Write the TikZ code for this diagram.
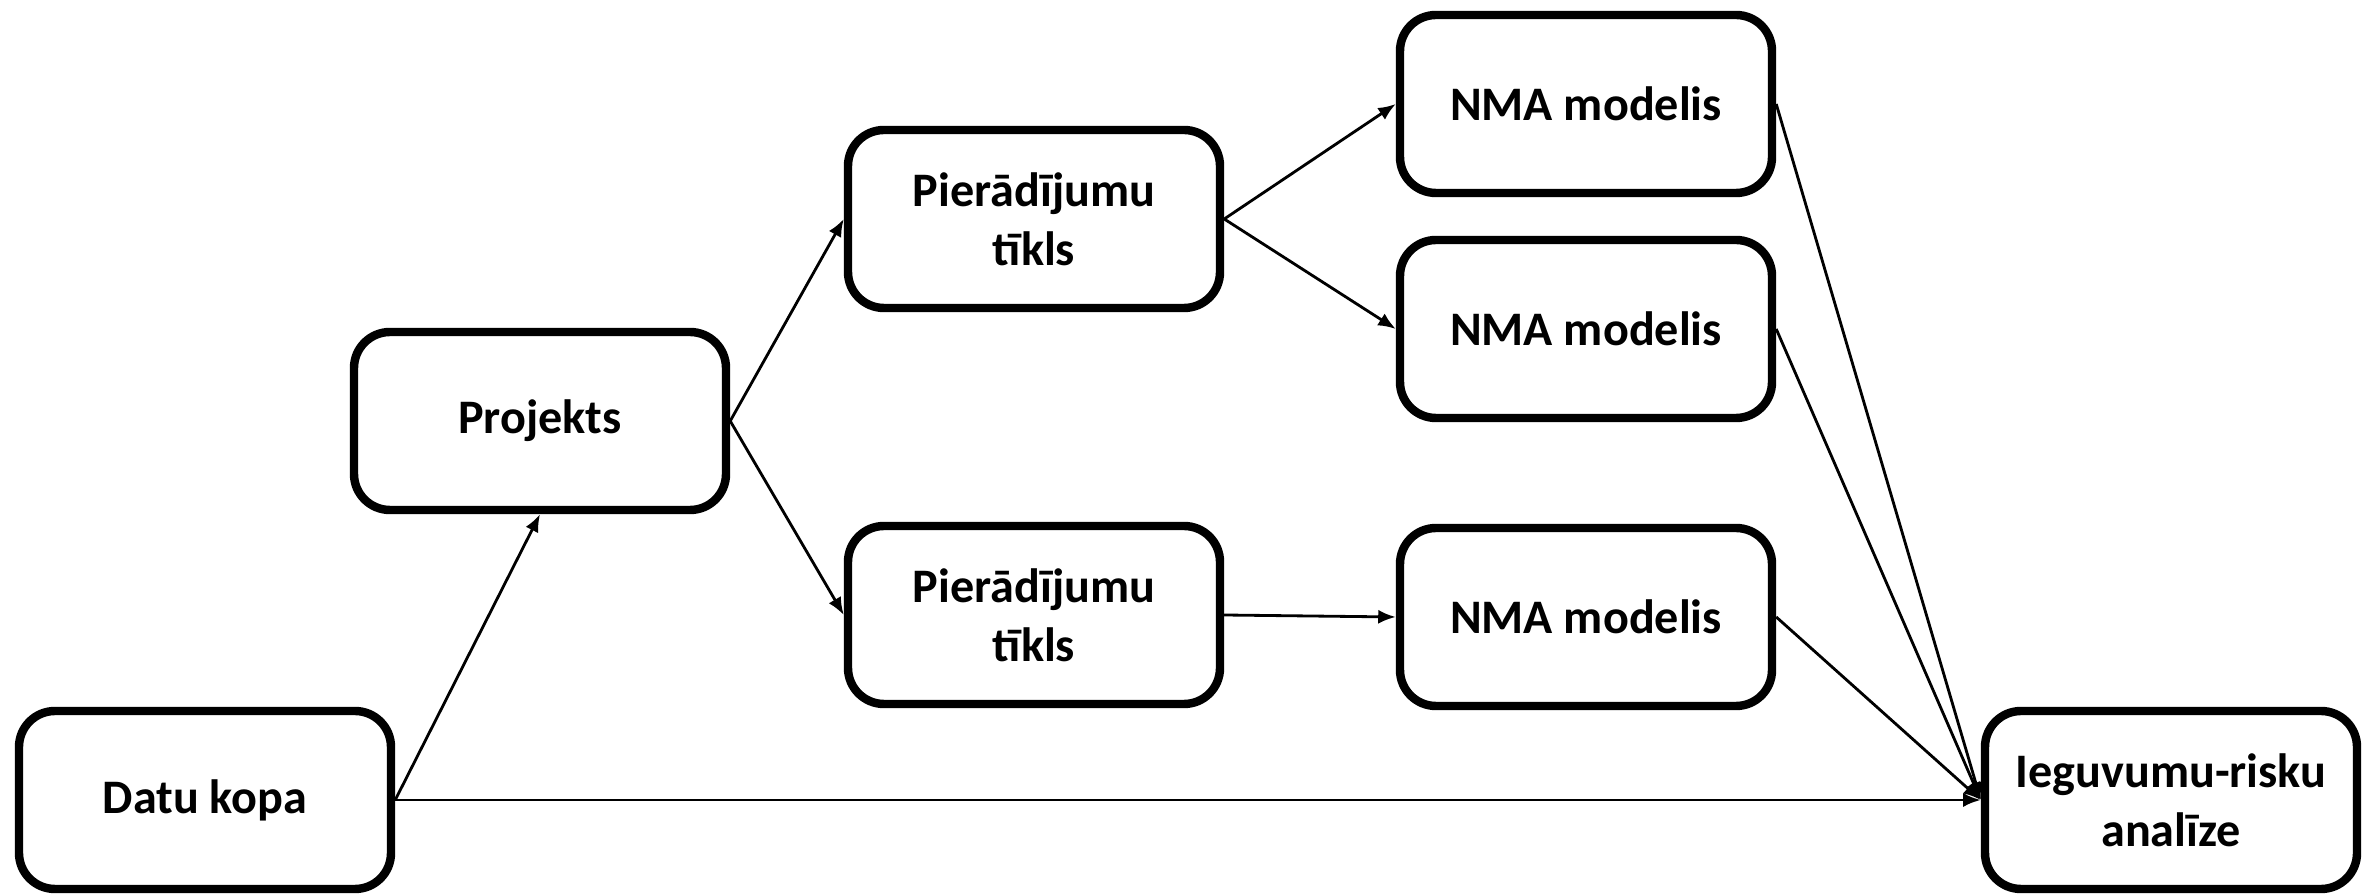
\documentclass[tikz,border=0pt]{standalone}
\usepackage{fontspec}
\setmainfont{Carlito}
\usepackage{tikz}
\usetikzlibrary{arrows.meta}

\begin{document}
\begin{tikzpicture}[>={Latex[length=5pt,width=4pt]},
every node/.style={draw, line width=2.4pt, rounded corners=0.36cm, align=center, minimum width=3.72cm, minimum height=1.78cm, font=\fontsize{13.7}{16.8}\selectfont\bfseries}]

\useasboundingbox (0,0) rectangle (23.64,-8.96);

\node (datu) at (2.05,-8.00) {Datu kopa};
\node (proj) at (5.40,-4.21) {Projekts};
\node (tikls1) at (10.34,-2.19) {Pierādījumu \\ tīkls};
\node (tikls2) at (10.34,-6.15) {Pierādījumu \\ tīkls};
\node (nma1) at (15.86,-1.04) {NMA modelis};
\node (nma2) at (15.86,-3.29) {NMA modelis};
\node (nma3) at (15.86,-6.17) {NMA modelis};
\node (ieg) at (21.71,-8.00) {Ieguvumu-risku \\ analīze};

\draw[->, line width=0.8pt] (datu.east) -- (proj.south);
\draw[->, line width=0.8pt] (proj.east) -- (tikls1.west);
\draw[->, line width=0.8pt] (proj.east) -- (tikls2.west);
\draw[->, line width=0.8pt] (tikls1.east) -- (nma1.west);
\draw[->, line width=0.8pt] (tikls1.east) -- (nma2.west);
\draw[->, line width=0.8pt] (tikls2.east) -- (nma3.west);
\draw[->, line width=0.8pt] (nma1.east) -- (ieg.west);
\draw[->, line width=0.8pt] (nma2.east) -- (ieg.west);
\draw[->, line width=0.8pt] (nma3.east) -- (ieg.west);
\draw[->, line width=0.8pt] (datu.east) -- (ieg.west);

\end{tikzpicture}
\end{document}
